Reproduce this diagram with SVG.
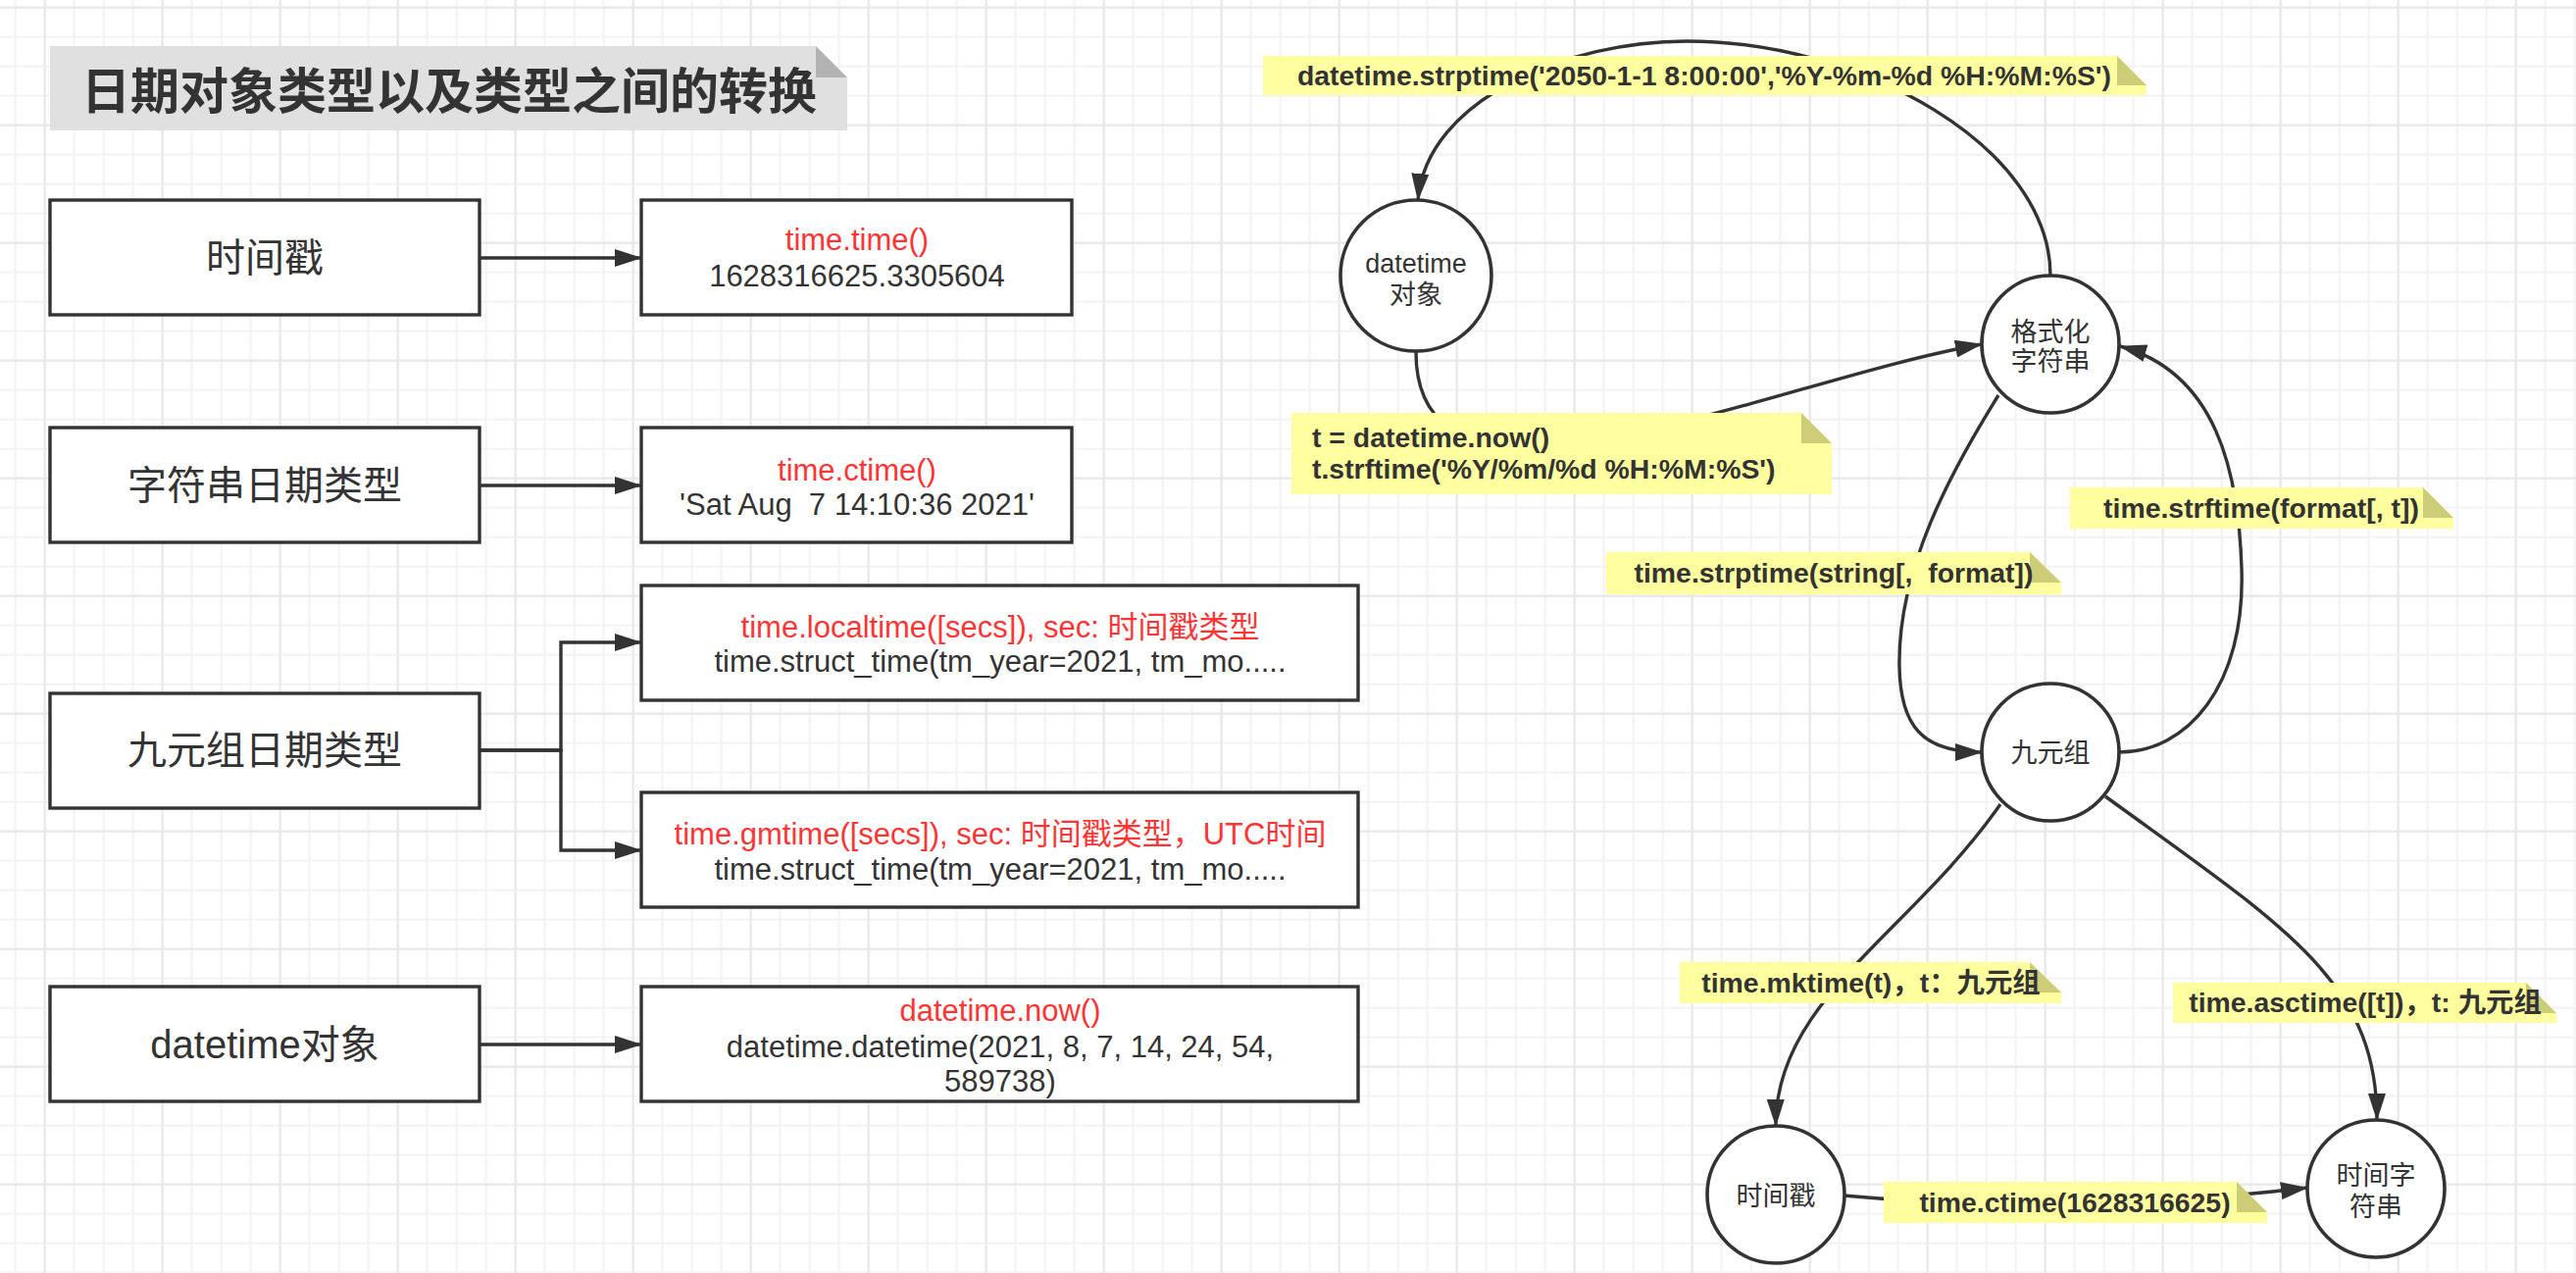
<svg xmlns="http://www.w3.org/2000/svg" width="2627" height="1298" viewBox="0 0 2627 1298">
  <style>
    .box { fill: #ffffff; stroke: #333333; stroke-width: 3.4; }
    .circ { fill: #ffffff; stroke: #333333; stroke-width: 3.6; }
    .edge { fill: none; stroke: #333333; stroke-width: 3.4; }
    .arrow { marker-end: url(#arrowHead); }
    .txt { font-family: "Liberation Sans", "Noto Sans CJK SC", sans-serif; fill: #333333; text-anchor: middle; white-space: pre; }
    .big { font-size: 40px; }
    .body { font-size: 31px; }
    .small { font-size: 27px; }
    .red { fill: #ff3535; }
    .title { font-family: "Noto Sans CJK SC", "Liberation Sans", sans-serif; font-size: 50px; font-weight: bold; fill: #333333; text-anchor: middle; }
    .note { fill: #ffffa0; }
    .fold { fill: #cdcd78; }
    .ntext { font-family: "Liberation Sans", "Noto Sans CJK SC", sans-serif; font-size: 28.4px; font-weight: bold; fill: #333333; text-anchor: middle; white-space: pre; }
  </style>
  <defs>
    <pattern id="gridMinor" width="30" height="30" patternUnits="userSpaceOnUse" x="14.7" y="6.7">
      <path d="M1 0V30M0 1H30" stroke="#f3f3f3" stroke-width="2" fill="none"/>
    </pattern>
    <pattern id="gridMajor" width="120" height="120" patternUnits="userSpaceOnUse" x="44.7" y="6.7">
      <path d="M1 0V120M0 1H120" stroke="#e7e7e7" stroke-width="2" fill="none"/>
    </pattern>
    <marker id="arrowHead" markerUnits="userSpaceOnUse" markerWidth="28" markerHeight="18" refX="27" refY="9" orient="auto">
      <path d="M0,0 L28,9 L0,18 Z" fill="#333333"/>
    </marker>
  </defs>

  <!-- background grid -->
  <rect width="2627" height="1298" fill="#ffffff"/>
  <rect width="2627" height="1298" fill="url(#gridMinor)"/>
  <rect width="2627" height="1298" fill="url(#gridMajor)"/>

  <!-- heading -->
  <g id="title">
    <path d="M51 47H832L864 79V133H51Z" fill="#e0e0e0"/>
    <path d="M832 47L864 79H832Z" fill="#b3b3b3"/>
    <text class="title" x="458" y="111">日期对象类型以及类型之间的转换</text>
  </g>

  <!-- left column: type boxes -->
  <g id="type-timestamp">
    <rect class="box" x="51" y="204" width="438" height="117"/>
    <text class="txt big" x="270" y="277">时间戳</text>
  </g>
  <g id="type-string">
    <rect class="box" x="51" y="436" width="438" height="117"/>
    <text class="txt big" x="270" y="509">字符串日期类型</text>
  </g>
  <g id="type-tuple">
    <rect class="box" x="51" y="707" width="438" height="117"/>
    <text class="txt big" x="270" y="779">九元组日期类型</text>
  </g>
  <g id="type-datetime">
    <rect class="box" x="51" y="1006" width="438" height="117"/>
    <text class="txt big" x="270" y="1079">datetime对象</text>
  </g>

  <!-- left column: example boxes -->
  <g id="ex-time">
    <rect class="box" x="654" y="204" width="439" height="117"/>
    <text class="txt body red" x="874" y="255">time.time()</text>
    <text class="txt body" x="874" y="292">1628316625.3305604</text>
  </g>
  <g id="ex-ctime">
    <rect class="box" x="654" y="436" width="439" height="117"/>
    <text class="txt body red" x="874" y="490">time.ctime()</text>
    <text class="txt body" x="874" y="525">'Sat Aug  7 14:10:36 2021'</text>
  </g>
  <g id="ex-localtime">
    <rect class="box" x="654" y="597" width="731" height="117"/>
    <text class="txt body red" x="1020" y="650">time.localtime([secs]), sec: 时间戳类型</text>
    <text class="txt body" x="1020" y="685">time.struct_time(tm_year=2021, tm_mo.....</text>
  </g>
  <g id="ex-gmtime">
    <rect class="box" x="654" y="808" width="731" height="117"/>
    <text class="txt body red" x="1020" y="861">time.gmtime([secs]), sec: 时间戳类型，UTC时间</text>
    <text class="txt body" x="1020" y="897">time.struct_time(tm_year=2021, tm_mo.....</text>
  </g>
  <g id="ex-now">
    <rect class="box" x="654" y="1006" width="731" height="117"/>
    <text class="txt body red" x="1020" y="1041">datetime.now()</text>
    <text class="txt body" x="1020" y="1078">datetime.datetime(2021, 8, 7, 14, 24, 54,</text>
    <text class="txt body" x="1020" y="1113">589738)</text>
  </g>

  <!-- right side: conversion graph nodes -->
  <g id="node-datetime">
    <circle class="circ" cx="1444" cy="281" r="77"/>
    <text class="txt small" x="1444" y="278">datetime</text>
    <text class="txt small" x="1444" y="310">对象</text>
  </g>
  <g id="node-format">
    <circle class="circ" cx="2091" cy="351" r="70"/>
    <text class="txt small" x="2091" y="348">格式化</text>
    <text class="txt small" x="2091" y="378">字符串</text>
  </g>
  <g id="node-tuple">
    <circle class="circ" cx="2091" cy="767" r="70"/>
    <text class="txt small" x="2091" y="777">九元组</text>
  </g>
  <g id="node-stamp">
    <circle class="circ" cx="1811" cy="1218" r="70"/>
    <text class="txt small" x="1811" y="1229">时间戳</text>
  </g>
  <g id="node-timestr">
    <circle class="circ" cx="2423" cy="1212" r="70"/>
    <text class="txt small" x="2423" y="1208">时间字</text>
    <text class="txt small" x="2423" y="1240">符串</text>
  </g>

  <!-- connectors -->
  <g id="connectors">
    <path class="edge arrow" d="M489 263H654"/>
    <path class="edge arrow" d="M489 495H654"/>
    <path class="edge arrow" d="M489 765H572V655H654"/>
    <path class="edge arrow" d="M489 765H572V867H654"/>
    <path class="edge arrow" d="M489 1065H654"/>

    <path class="edge arrow" d="M2091 281C2091 150 1900 42 1720 42C1600 42 1455 100 1446 204"/>
    <path class="edge arrow" d="M1444 359C1444 560 1800 390 2021 351"/>
    <path class="edge arrow" d="M2038 403C1990 480 1935 580 1937 680C1938 740 1960 767 2021 767"/>
    <path class="edge arrow" d="M2161 767C2230 767 2290 700 2286 580C2283 480 2260 380 2162 353"/>
    <path class="edge arrow" d="M2040 820C1950 950 1810 1020 1811 1148"/>
    <path class="edge arrow" d="M2147 812C2330 945 2424 1000 2424 1142"/>
    <path class="edge arrow" d="M1880 1219Q2110 1240 2353 1211"/>
  </g>

  <!-- connector labels (notes) -->
  <g id="edge-labels">
    <g id="lbl-strptime-dt">
      <path class="note" d="M1288 57H2159L2189 87V97H1288Z"/>
      <path class="fold" d="M2159 57L2189 87H2159Z"/>
      <text class="ntext" x="1738" y="87">datetime.strptime('2050-1-1 8:00:00','%Y-%m-%d %H:%M:%S')</text>
    </g>
    <g id="lbl-strftime-dt">
      <path class="note" d="M1317 421H1837L1868 452V504H1317Z"/>
      <path class="fold" d="M1837 421L1868 452H1837Z"/>
      <text class="ntext" x="1338" y="456" style="text-anchor:start">t = datetime.now()</text>
      <text class="ntext" x="1338" y="488" style="text-anchor:start">t.strftime('%Y/%m/%d %H:%M:%S')</text>
    </g>
    <g id="lbl-strptime">
      <path class="note" d="M1638 563H2070L2102 594V606H1638Z"/>
      <path class="fold" d="M2070 563L2102 594H2070Z"/>
      <text class="ntext" x="1870" y="594">time.strptime(string[,  format])</text>
    </g>
    <g id="lbl-strftime">
      <path class="note" d="M2111 497H2471L2502 528V539H2111Z"/>
      <path class="fold" d="M2471 497L2502 528H2471Z"/>
      <text class="ntext" x="2306" y="528">time.strftime(format[, t])</text>
    </g>
    <g id="lbl-mktime">
      <path class="note" d="M1713 981H2070L2102 1012V1023H1713Z"/>
      <path class="fold" d="M2070 981L2102 1012H2070Z"/>
      <text class="ntext" x="1908" y="1012">time.mktime(t)，t：九元组</text>
    </g>
    <g id="lbl-asctime">
      <path class="note" d="M2216 1002H2576L2607 1033V1043H2216Z"/>
      <path class="fold" d="M2576 1002L2607 1033H2576Z"/>
      <text class="ntext" x="2412" y="1032">time.asctime([t])，t: 九元组</text>
    </g>
    <g id="lbl-ctime">
      <path class="note" d="M1921 1205H2281L2312 1236V1247H1921Z"/>
      <path class="fold" d="M2281 1205L2312 1236H2281Z"/>
      <text class="ntext" x="2116" y="1236">time.ctime(1628316625)</text>
    </g>
  </g>
</svg>
